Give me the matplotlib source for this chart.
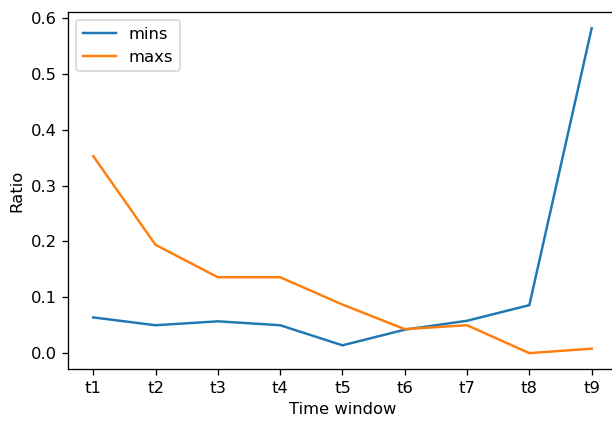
import matplotlib.pyplot as plt

windows = ["t1", "t2", "t3", "t4", "t5", "t6", "t7", "t8", "t9"]
mins = [0.064, 0.050, 0.057, 0.050, 0.014, 0.042, 0.058, 0.086, 0.582]
maxs = [0.353, 0.194, 0.136, 0.136, 0.087, 0.043, 0.050, 0.0, 0.008]

fig, ax = plt.subplots(figsize=(612 / 118, 421 / 118), dpi=118)
# axes run a little past the right edge, so the right spine is cut off
fig.subplots_adjust(left=0.1116, right=1.0075, top=0.9715, bottom=0.1226)

ax.plot(windows, mins, label="mins")
ax.plot(windows, maxs, label="maxs")
ax.set_xlabel("Time window")
ax.set_ylabel("Ratio")
ax.legend(loc="upper left")

plt.savefig("out.png")
